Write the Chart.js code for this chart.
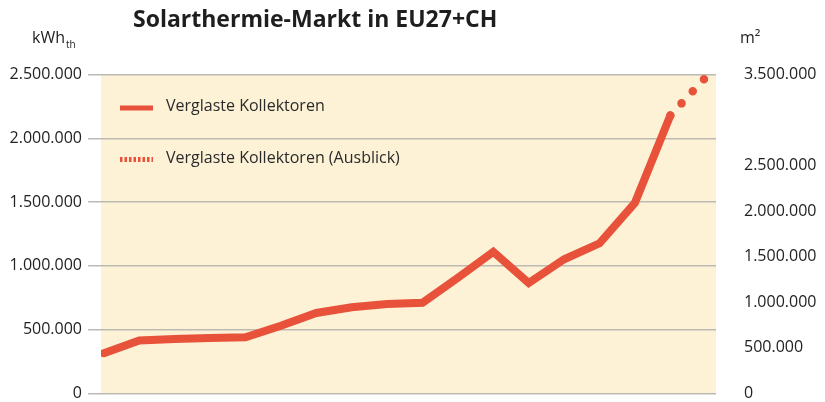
<!DOCTYPE html>
<html>
<head>
<meta charset="utf-8">
<script src="https://cdn.jsdelivr.net/npm/chart.js@4.4.1/dist/chart.umd.min.js"></script>
<style>
  body { margin: 0; background: #fff; }
  #wrap { width: 825px; height: 402px; }
</style>
</head>
<body>
<div id="wrap"><canvas id="myChart" width="825" height="402"></canvas></div>
<script>
// Daten
const years = [1990, 1991, 1992, 1993, 1994, 1995, 1996, 1997, 1998, 1999, 2000, 2001, 2002, 2003, 2004, 2005, 2006, 2007];
const verglast = [315000, 415000, 426000, 434000, 440000, 530000, 630000, 675000, 700000, 711000, 906000, 1110000, 865000, 1052000, 1177000, 1495000, 2180000, null];
const ausblick = [null, null, null, null, null, null, null, null, null, null, null, null, null, null, null, null, 2180000, 2480000];
const leftTicks = [0, 500000, 1000000, 1500000, 2000000, 2500000];
const rightTicks = [0, 500000, 1000000, 1500000, 2000000, 2500000, 3500000];

const titleText = 'Solarthermie-Markt in EU27+CH';
const labelSolid = 'Verglaste Kollektoren';
const labelDotted = 'Verglaste Kollektoren (Ausblick)';

const orange = '#e8523a';
const FONT = '"Open Sans", sans-serif';

function fmt(v) {
    return String(v).replace(/\B(?=(\d{3})+(?!\d))/g, '.');
}
function toPoints(arr) {
    return years.map((y, i) => ({ x: y, y: arr[i] })).filter(p => p.y !== null);
}

// Hintergrund, Titel, Einheiten und Legende
const decor = {
    id: 'decor',
    beforeDraw(chart) {
        const { ctx, chartArea: a } = chart;
        ctx.save();
        ctx.fillStyle = '#fdf2d5';
        ctx.fillRect(a.left, a.top, a.right - a.left, a.bottom - a.top);
        ctx.restore();
    },
    afterDraw(chart) {
        const ctx = chart.ctx;
        ctx.save();
        ctx.textBaseline = 'alphabetic';
        ctx.fillStyle = '#1e1e1e';
        ctx.font = 'bold 23px ' + FONT;
        ctx.fillText(titleText, 133, 27);

        ctx.fillStyle = '#222';
        ctx.font = '16px ' + FONT;
        ctx.fillText('kWh', 32, 43);
        const w = ctx.measureText('kWh').width;
        ctx.font = '10px ' + FONT;
        ctx.fillText('th', 32 + w + 1, 48);
        ctx.font = '16px ' + FONT;
        ctx.fillText('m²', 740, 43);

        // Legende
        ctx.strokeStyle = orange;
        ctx.lineWidth = 5;
        ctx.beginPath();
        ctx.moveTo(120, 108);
        ctx.lineTo(153, 108);
        ctx.stroke();
        ctx.setLineDash([2.5, 2]);
        ctx.beginPath();
        ctx.moveTo(120, 159.5);
        ctx.lineTo(153, 159.5);
        ctx.stroke();
        ctx.setLineDash([]);
        ctx.fillStyle = '#2a2a2a';
        ctx.textBaseline = 'middle';
        ctx.fillText(labelSolid, 166, 106);
        ctx.fillText(labelDotted, 166, 158);
        ctx.restore();
    }
};

// Achsenbreite fest, keine Extra-Abstaende oben/unten
function fixAxis(width) {
    return s => {
        s.width = width;
        s.paddingTop = 0;
        s.paddingBottom = 0;
    };
}

const ctx = document.getElementById('myChart').getContext('2d');
const myChart = new Chart(ctx, {
    type: 'line',
    data: {
        datasets: [{
            label: labelSolid,
            data: toPoints(verglast),
            borderColor: orange,
            borderWidth: 8,
            borderCapStyle: 'round',
            borderJoinStyle: 'miter',
            pointRadius: 0,
            tension: 0,
            yAxisID: 'y'
        }, {
            label: labelDotted,
            data: toPoints(ausblick),
            borderColor: orange,
            borderWidth: 8.5,
            borderDash: [0, 16.5],
            borderCapStyle: 'round',
            pointRadius: 0,
            tension: 0,
            yAxisID: 'y'
        }]
    },
    options: {
        responsive: false,
        animation: false,
        layout: { padding: { top: 74.7, bottom: 8.7, left: 0, right: 0 } },
        plugins: {
            legend: { display: false },
            title: { display: false },
            tooltip: { enabled: false }
        },
        scales: {
            x: {
                type: 'linear',
                display: false,
                min: 1989.92,
                max: 2007.29
            },
            y: {
                position: 'left',
                min: 0,
                max: 2500000,
                afterBuildTicks: s => { s.ticks = leftTicks.map(v => ({ value: v })); },
                afterFit: fixAxis(101),
                ticks: {
                    padding: 6,
                    color: '#222',
                    font: { family: FONT, size: 16 },
                    callback: v => fmt(v)
                },
                grid: { color: '#bdbab3', lineWidth: 1.5, tickLength: 13 },
                border: { display: false }
            },
            y2: {
                position: 'right',
                min: 0,
                max: 3500000,
                afterBuildTicks: s => { s.ticks = rightTicks.map(v => ({ value: v })); },
                afterFit: fixAxis(109),
                ticks: {
                    padding: 28,
                    color: '#222',
                    font: { family: FONT, size: 16 },
                    callback: v => fmt(v)
                },
                grid: { display: false, drawTicks: false },
                border: { display: false }
            }
        }
    },
    plugins: [decor]
});
</script>
</body>
</html>
